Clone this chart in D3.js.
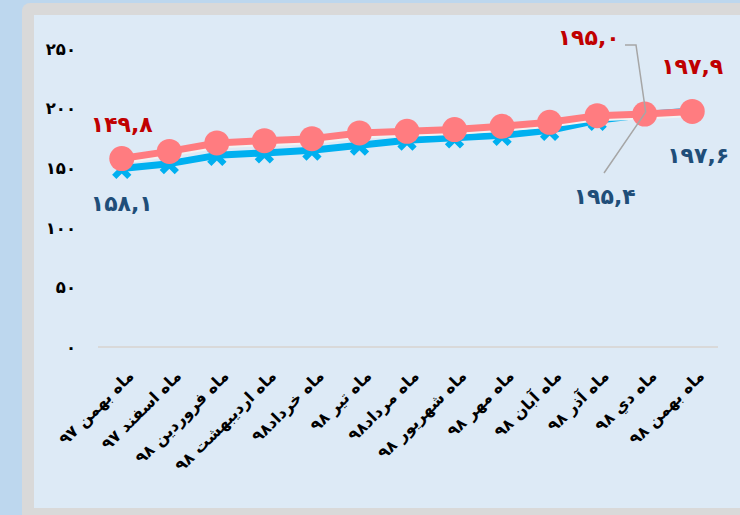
<!DOCTYPE html>
<html>
<head>
<meta charset="utf-8">
<script src="https://cdn.jsdelivr.net/npm/d3@7"></script>
<style>
  html, body { margin: 0; padding: 0; background: #bdd7ee; }
  svg { display: block; }
</style>
</head>
<body>
<div id="chart"></div>
<script>
// months (x categories)
const months = [
    'ماه بهمن ۹۷', 'ماه اسفند ۹۷', 'ماه فروردین ۹۸', 'ماه اردیبهشت ۹۸',
    'ماه خرداد۹۸', 'ماه تیر ۹۸', 'ماه مرداد۹۸', 'ماه شهریور ۹۸',
    'ماه مهر ۹۸', 'ماه آبان ۹۸', 'ماه آذر ۹۸', 'ماه دي ۹۸', 'ماه بهمن ۹۸'
];
// lower (blue) series
const blueValues = [149.8, 153.8, 160.8, 162.8, 165.1, 169.3, 173.5, 175.5, 177.6, 181.8, 190.2, 195.0, 197.9];
// upper (pink) series
const pinkValues = [158.1, 164.1, 171.2, 173.1, 174.8, 179.6, 180.9, 182.4, 185.1, 188.5, 194.1, 195.4, 197.6];
const yTicks = [0, 50, 100, 150, 200, 250];

const fa = s => String(s).replace(/[0-9]/g, d => '۰۱۲۳۴۵۶۷۸۹'[d]);
const faNum = v => fa(v.toFixed(1).replace('.', ','));

const W = 740, H = 515;
const svg = d3.select('#chart').append('svg')
    .attr('width', W).attr('height', H)
    .style('font-family', '"DejaVu Sans", sans-serif');

// background / frame
svg.append('rect').attr('width', W).attr('height', H).attr('fill', '#bdd7ee');
svg.append('rect').attr('x', 22).attr('y', 3).attr('width', 740).attr('height', 530)
    .attr('rx', 8).attr('fill', '#d9d9d9');
svg.append('rect').attr('x', 34).attr('y', 15).attr('width', 720).attr('height', 493)
    .attr('fill', '#ddeaf6');

const x = d3.scaleBand().domain(months).range([98, 716]);
const cx = d => x(d) + x.bandwidth() / 2;
const y = d3.scaleLinear().domain([0, 250]).range([347, 49]);

// zero line
svg.append('line')
    .attr('x1', 98).attr('x2', 718)
    .attr('y1', y(0)).attr('y2', y(0))
    .attr('stroke', '#d9d9d9').attr('stroke-width', 2);

// y axis labels
const yAxis = svg.append('g')
    .attr('transform', 'translate(76,0)')
    .call(d3.axisLeft(y).tickValues(yTicks).tickSize(0).tickPadding(0).tickFormat(fa));
yAxis.select('.domain').remove();
yAxis.selectAll('text')
    .attr('font-size', 16.5).attr('font-weight', 'bold').attr('fill', '#000')
    .style('font-family', '"DejaVu Sans", sans-serif');

// x axis labels, rotated
const xAxis = svg.append('g')
    .attr('transform', `translate(0,${y(0)})`)
    .call(d3.axisBottom(x).tickSize(0).tickPadding(0));
xAxis.select('.domain').remove();
xAxis.selectAll('text')
    .attr('font-size', 16).attr('font-weight', 'bold').attr('fill', '#000')
    .style('font-family', '"DejaVu Sans", sans-serif')
    .attr('text-anchor', 'end')
    .attr('transform', 'translate(9,26) rotate(-45)')
    .attr('dy', '0.35em').attr('y', 0);

const line = d3.line().x((d, i) => cx(months[i])).y(d => y(d));

// blue series
svg.append('path').datum(blueValues)
    .attr('d', line).attr('fill', 'none')
    .attr('stroke', '#00b0f0').attr('stroke-width', 7).attr('stroke-linejoin', 'round');
svg.selectAll('path.bm').data(blueValues).enter().append('path')
    .attr('class', 'bm')
    .attr('d', d3.symbol(d3.symbolX, 150))
    .attr('transform', (d, i) => `translate(${cx(months[i])},${y(d) + 1})`)
    .attr('fill', 'none').attr('stroke', '#00b0f0').attr('stroke-width', 6);

// pink series, with a thin white edge under it
svg.append('path').datum(pinkValues)
    .attr('d', line).attr('fill', 'none')
    .attr('transform', 'translate(0,2)')
    .attr('stroke', '#f2f2f2').attr('stroke-width', 7);
svg.append('path').datum(pinkValues)
    .attr('d', line).attr('fill', 'none')
    .attr('stroke', '#ff7c80').attr('stroke-width', 7).attr('stroke-linejoin', 'round');
svg.selectAll('circle.pm').data(pinkValues).enter().append('circle')
    .attr('class', 'pm')
    .attr('cx', (d, i) => cx(months[i])).attr('cy', d => y(d))
    .attr('r', 12.5).attr('fill', '#ff7c80');

// leader lines
const last = months.length - 1;
svg.append('polyline')
    .attr('points', `625,45 636,45 ${cx(months[last - 1]) + 1},${y(pinkValues[last - 1]) - 2} 604,173`)
    .attr('fill', 'none').attr('stroke', '#a6a6a6').attr('stroke-width', 1.5);

// data labels
const labels = [
    { v: blueValues[0], i: 0, dx: 0, dy: -36, c: '#c00000' },
    { v: pinkValues[0], i: 0, dx: 0, dy: 52, c: '#1f4e79' },
    { v: blueValues[last - 1], i: last - 1, dx: -56, dy: -70, c: '#c00000' },
    { v: pinkValues[last - 1], i: last - 1, dx: -40, dy: 90, c: '#1f4e79' },
    { v: blueValues[last], i: last, dx: 0, dy: -37, c: '#c00000' },
    { v: pinkValues[last], i: last, dx: 6, dy: 52, c: '#1f4e79' }
];
svg.selectAll('text.dl').data(labels).enter().append('text')
    .attr('class', 'dl')
    .attr('x', d => cx(months[d.i]) + d.dx)
    .attr('y', d => y(d.v) + d.dy)
    .attr('text-anchor', 'middle')
    .attr('font-size', 22).attr('font-weight', 'bold')
    .attr('fill', d => d.c)
    .text(d => faNum(d.v));
</script>
</body>
</html>
